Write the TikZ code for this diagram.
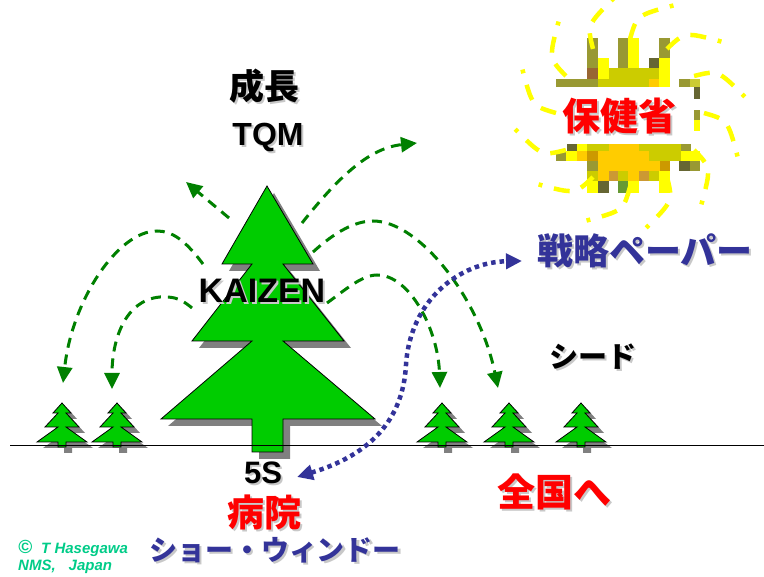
\documentclass[tikz,border=0pt]{standalone}
\usepackage{fontspec}
\setmainfont{Liberation Sans}
\newfontfamily\jp{Noto Sans CJK JP}
\usepackage{tikz}
\usetikzlibrary{arrows.meta, calc}
\definecolor{treegreen}{RGB}{0,204,0}
\definecolor{treeshadow}{RGB}{128,128,128}
\definecolor{arrowgreen}{RGB}{0,128,0}
\definecolor{paperblue}{RGB}{51,51,153}
\definecolor{txtshadow}{RGB}{200,200,200}
\definecolor{copyteal}{RGB}{0,204,136}
% sun mosaic
\definecolor{sOlive}{RGB}{153,153,51}
\definecolor{sYel}{RGB}{255,255,0}
\definecolor{sLime}{RGB}{204,204,0}
\definecolor{sOrange}{RGB}{255,204,0}
\definecolor{sBrown}{RGB}{153,102,51}
\definecolor{sDark}{RGB}{102,102,51}
\definecolor{sOchre}{RGB}{204,153,0}
\definecolor{sTan}{RGB}{204,153,51}
\definecolor{sGreen}{RGB}{102,153,51}
\definecolor{sPale}{RGB}{204,204,51}

% text with a soft drop shadow
\newcommand{\shd}[1]{\makebox[0pt][l]{\hspace{2pt}\raisebox{-2pt}{\textcolor{txtshadow}{#1}}}#1}

\begin{document}
\begin{tikzpicture}[x=1pt, y=-1pt,
    treefill/.style={fill=treegreen, draw=black, line width=0.8pt},
    shadowfill/.style={fill=treeshadow},
    growarrow/.style={arrowgreen, line width=3pt, dash pattern=on 10pt off 7pt,
                 -{Triangle[length=16pt, width=15pt]}},
    spread/.style={paperblue, line width=4.5pt, dash pattern=on 4.5pt off 4pt,
                   {Triangle[length=16pt, width=15pt]}-{Triangle[length=16pt, width=15pt]}},
    ray/.style={sYel, line width=4.5pt, dash pattern=on 16pt off 12pt},
    jtext/.style={inner sep=0pt, font=\jp\bfseries\fontsize{#1}{#1}\selectfont},
    etext/.style={inner sep=0pt, font=\bfseries\fontsize{#1}{#1}\selectfont},
    seedling/.pic={
      \foreach \d/\st in {6/shadowfill, 0/treefill}
        \path[\st, shift={(\d,\d)}] (0,0) -- (9,10) -- (4,10) -- (17,24) -- (4,24)
          -- (25,39) -- (4,39) -- (4,44) -- (-4,44) -- (-4,39) -- (-25,39)
          -- (-4,24) -- (-17,24) -- (-4,10) -- (-9,10) -- cycle;
    }
]
\useasboundingbox (0,0) rectangle (764,577);

% Sun
\coordinate (sun) at (630,113);
\foreach \xa/\ya/\xb/\yb/\c in {
    587/38/598/68/sOlive, 587/68/598/79/sBrown, 598/58/609/79/sYel,
    618/38/628/68/sOlive, 628/38/639/68/sYel, 659/38/670/58/sOlive,
    649/58/659/68/sDark, 659/58/670/87/sYel, 609/68/659/79/sLime,
    556/79/587/87/sOlive, 587/79/598/87/sOlive, 598/79/649/87/sLime,
    649/79/659/87/sOrange, 679/79/690/87/sOlive, 690/79/700/87/sPale,
    694/87/700/99/sDark, 694/110/700/120/sOlive, 694/120/700/131/sYel,
    567/144/577/151/sDark, 577/144/587/151/sYel, 587/144/609/151/sLime,
    609/144/639/151/sOrange, 639/144/681/151/sLime, 681/144/691/151/sOlive,
    556/151/566/161/sOlive, 566/151/577/161/sYel, 577/151/587/161/sOrange,
    587/151/598/161/sOchre, 598/151/649/161/sOrange, 649/151/681/161/sLime,
    681/151/700/161/sYel,
    587/161/598/171/sOlive, 598/161/660/171/sOrange, 660/161/670/171/sOchre,
    679/161/690/171/sDark, 690/161/700/171/sOlive,
    587/171/598/181/sLime, 598/171/609/181/sOrange, 609/171/618/181/sTan,
    618/171/628/181/sLime, 628/171/639/181/sOrange, 639/171/649/181/sTan,
    649/171/659/181/sLime, 659/171/670/181/sYel,
    587/181/598/193/sYel, 598/181/609/193/sDark, 618/181/628/193/sGreen,
    628/181/639/193/sYel, 659/181/670/193/sYel}
  \fill[\c] (\xa,\ya) rectangle (\xb,\yb);
% swirling rays
\foreach \a in {0,30,...,330}
  \draw[ray] ($(sun)+(\a:74)$) .. controls ($(sun)+(\a+4:98)$) .. ($(sun)+(\a+22:116)$);

% Big tree
\foreach \d/\st in {7/shadowfill, 0/treefill}
  \path[\st, shift={(\d,\d)}] (267,186) -- (313,264) -- (283,264) -- (344,341)
    -- (283,341) -- (375,419) -- (283,419) -- (283,452) -- (252,452) -- (252,419)
    -- (161,419) -- (252,341) -- (192,341) -- (252,264) -- (222,264) -- cycle;

% Seedlings
\pic (seedA) at (62,403) {seedling};
\pic (seedB) at (117,403) {seedling};
\pic (seedC) at (442,403) {seedling};
\pic (seedD) at (509,403) {seedling};
\pic (seedE) at (581,403) {seedling};

% Ground
\coordinate (gl) at (10,445);
\coordinate (gr) at (764,445);
\draw[black, line width=0.8pt] (gl) -- (gr);

% Labels
\node[jtext=35] (growth) at (264,87)  {\shd{成長}};
\node[etext=32] (tqm)    at (268,138) {\shd{TQM}};
\node[etext=34] (kaizen) at (262,292) {\shd{KAIZEN}};
\node[etext=31] (fives)  at (263,474) {\shd{5S}};
\node[jtext=37, text=red] (hosp) at (264,513) {\shd{病院}};
\node[jtext=28, text=paperblue] (window) at (275,551) {\shd{ショー・ウィンドー}};
\node[jtext=38, text=red] (nation) at (554,493) {\shd{全国へ}};
\node[jtext=29] (seed) at (593,358) {\shd{シード}};
\node[jtext=36, text=paperblue] (paper) at (645,252) {\shd{戦略ペーパー}};
\node[jtext=38, text=red] (mhw) at (619,117) {\shd{保健省}};
\node[anchor=west, inner sep=0pt, align=left, text=copyteal,
      font=\bfseries\itshape\fontsize{15}{17}\selectfont] (credit) at (18,557)
  {\fontsize{19}{17}\selectfont©\hspace{9pt}\fontsize{15}{17}\selectfont T Hasegawa\\NMS,\hspace{13pt}Japan};

% Growth arrows
\coordinate (upL) at (186,182);
\coordinate (upR) at (417,143);
\coordinate (downA) at (63,383);
\coordinate (downB) at (112,389);
\coordinate (downC) at (440,388);
\coordinate (downD) at (498,388);
\draw[growarrow] (229,218) -- (upL);
\draw[growarrow] (302,223) .. controls (340,175) and (370,148) .. (upR);
\draw[growarrow] (203,264) .. controls (185,240) and (172,231) .. (157,231)
  .. controls (118,231) and (72,300) .. (downA);
\draw[growarrow] (192,308) .. controls (178,296) and (170,297) .. (160,297)
  .. controls (125,300) and (112,340) .. (downB);
\draw[growarrow] (313,252) .. controls (335,232) and (355,221) .. (373,221)
  .. controls (420,221) and (480,300) .. (downD);
\draw[growarrow] (327,303) .. controls (345,290) and (362,275) .. (377,275)
  .. controls (410,275) and (438,330) .. (downC);

% Strategy paper link
\coordinate (showtip) at (297,477);
\coordinate (papertip) at (522,261);
\coordinate (bend) at (406,365);
\draw[spread] (showtip) .. controls (370,455) and (403,420) .. (bend)
  .. controls (410,300) and (460,262) .. (papertip);

\end{tikzpicture}
\end{document}
